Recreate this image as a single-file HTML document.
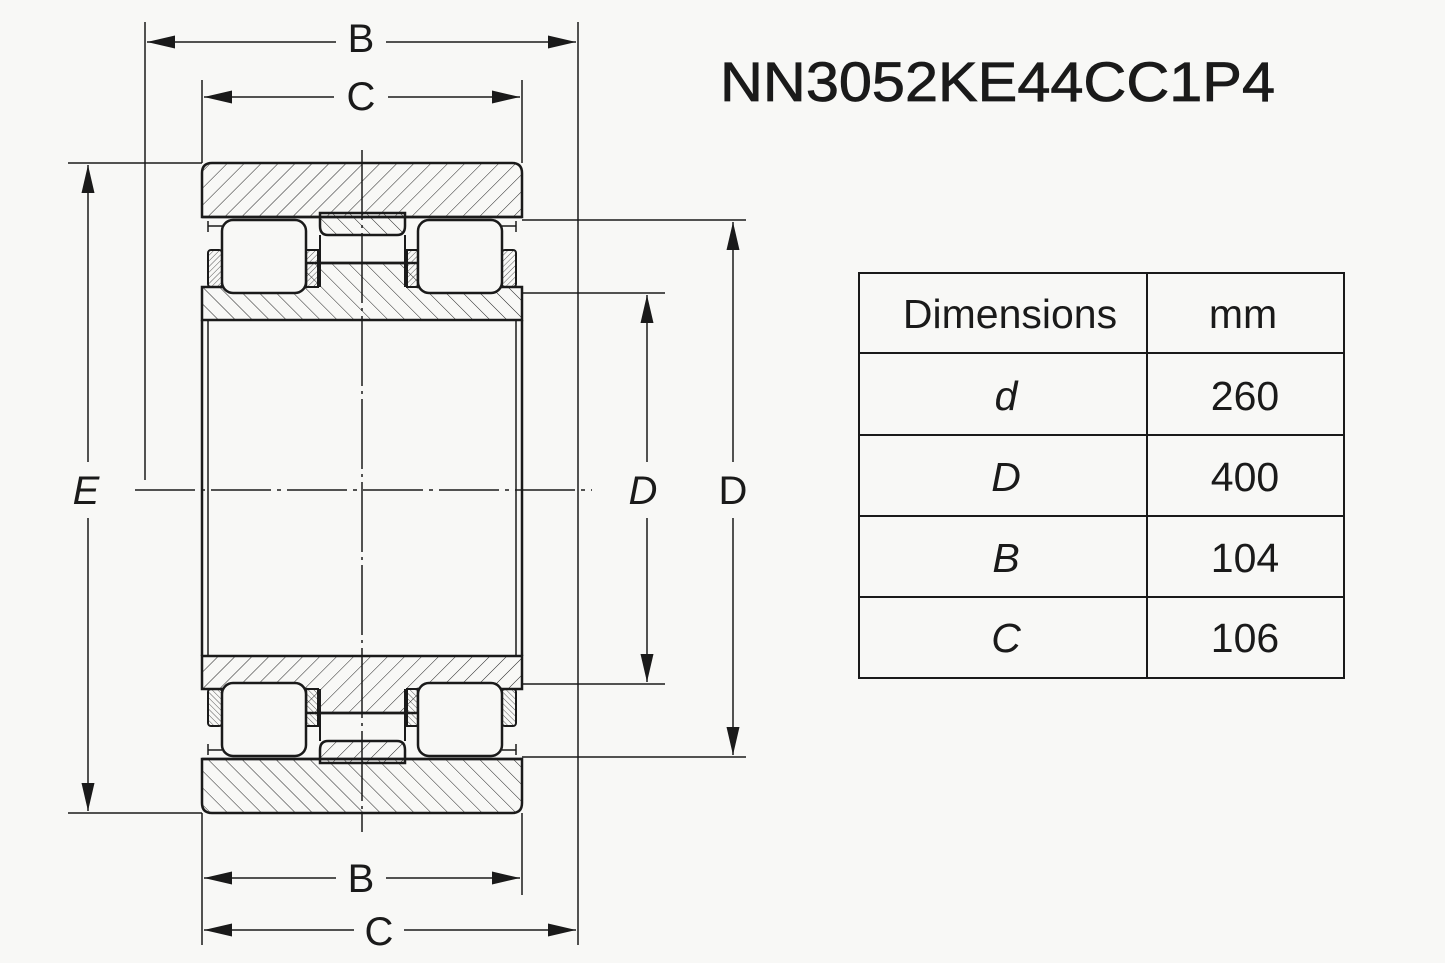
<!DOCTYPE html>
<html><head><style>
html,body{margin:0;padding:0;background:#f8f8f6;}
svg{display:block;}
text{font-family:"Liberation Sans",sans-serif;fill:#1a1a1a;}
</style></head><body>
<svg width="1445" height="963" viewBox="0 0 1445 963" xmlns="http://www.w3.org/2000/svg">
<defs>
<pattern id="hf" width="12" height="12" patternUnits="userSpaceOnUse" patternTransform="rotate(45)"><line x1="0" y1="0" x2="0" y2="12" stroke="#222" stroke-width="1"/></pattern>
<pattern id="hb" width="12" height="12" patternUnits="userSpaceOnUse" patternTransform="rotate(-45)"><line x1="0" y1="0" x2="0" y2="12" stroke="#222" stroke-width="1"/></pattern>
<pattern id="hs" width="4" height="4" patternUnits="userSpaceOnUse" patternTransform="rotate(45)"><line x1="0" y1="0" x2="0" y2="4" stroke="#333" stroke-width="0.8"/></pattern>
<marker id="ar" viewBox="0 0 10 10" refX="10" refY="5" markerWidth="28" markerHeight="13" markerUnits="userSpaceOnUse" orient="auto-start-reverse" preserveAspectRatio="none"><path d="M0,0 L10,5 L0,10 z" fill="#1a1a1a"/></marker>
<g id="half" stroke="#1a1a1a" fill="none">
  <path d="M202,217 L202,173 Q202,163 212,163 L512,163 Q522,163 522,173 L522,217 Z" fill="url(#hf)" stroke-width="2.5"/>
  <path d="M320,213 L320,226 Q320,235 328,235 L397,235 Q405,235 405,226 L405,213 Z" fill="url(#hb)" stroke-width="2.5"/>
  <line x1="320" y1="263" x2="405" y2="263" stroke-width="2.5"/>
  <line x1="320" y1="235" x2="320" y2="287" stroke-width="2"/>
  <line x1="405" y1="235" x2="405" y2="287" stroke-width="2"/>
  <path d="M202,287 L306,287 L306,263 L418,263 L418,287 L522,287 L522,320 L202,320 Z" fill="url(#hb)" stroke-width="2.5"/>
  <rect x="208" y="250" width="14" height="37" rx="3" fill="url(#hs)" stroke-width="2"/>
  <rect x="306" y="250" width="12" height="37" fill="url(#hs)" stroke-width="2"/>
  <rect x="407" y="250" width="11" height="37" fill="url(#hs)" stroke-width="2"/>
  <rect x="502" y="250" width="14" height="37" rx="3" fill="url(#hs)" stroke-width="2"/>
  <path d="M208,221 L208,232 M516,221 L516,232 M208,226 L222,226 M502,226 L516,226" stroke-width="1.5"/>
  <rect x="222" y="220" width="84" height="73" rx="11" fill="#f8f8f6" stroke-width="2.5"/>
  <rect x="418" y="220" width="84" height="73" rx="11" fill="#f8f8f6" stroke-width="2.5"/>
  <line x1="202" y1="217" x2="522" y2="217" stroke-width="2.5"/>
</g>
</defs>
<rect width="1445" height="963" fill="#f8f8f6"/>
<use href="#half"/>
<use href="#half" transform="matrix(1 0 0 -1 0 976)"/>
<g stroke="#1a1a1a" fill="none">
  <line x1="202" y1="320" x2="202" y2="656" stroke-width="2.5"/>
  <line x1="522" y1="320" x2="522" y2="656" stroke-width="2.5"/>
  <line x1="208" y1="320" x2="208" y2="656" stroke-width="1.5"/>
  <line x1="516" y1="320" x2="516" y2="656" stroke-width="1.5"/>
  <line x1="362" y1="150" x2="362" y2="832" stroke-width="1.5" stroke-dasharray="70,5,3,5"/>
  <line x1="135" y1="490" x2="592" y2="490" stroke-width="1.5" stroke-dasharray="60,6,4,6"/>
  <line x1="145" y1="22" x2="145" y2="480" stroke-width="1.5"/>
  <line x1="578" y1="22" x2="578" y2="945" stroke-width="1.5"/>
  <line x1="202" y1="80" x2="202" y2="163" stroke-width="1.5"/>
  <line x1="522" y1="80" x2="522" y2="163" stroke-width="1.5"/>
  <line x1="202" y1="813" x2="202" y2="945" stroke-width="1.5"/>
  <line x1="522" y1="813" x2="522" y2="895" stroke-width="1.5"/>
  <line x1="68" y1="163" x2="202" y2="163" stroke-width="1.5"/>
  <line x1="68" y1="813" x2="202" y2="813" stroke-width="1.5"/>
  <line x1="522" y1="220" x2="746" y2="220" stroke-width="1.5"/>
  <line x1="522" y1="757" x2="746" y2="757" stroke-width="1.5"/>
  <line x1="522" y1="293" x2="665" y2="293" stroke-width="1.5"/>
  <line x1="522" y1="684" x2="665" y2="684" stroke-width="1.5"/>
  <line x1="147" y1="42" x2="336" y2="42" stroke-width="1.5" marker-start="url(#ar)"/>
  <line x1="386" y1="42" x2="576" y2="42" stroke-width="1.5" marker-end="url(#ar)"/>
  <line x1="204" y1="97" x2="334" y2="97" stroke-width="1.5" marker-start="url(#ar)"/>
  <line x1="388" y1="97" x2="520" y2="97" stroke-width="1.5" marker-end="url(#ar)"/>
  <line x1="204" y1="878" x2="336" y2="878" stroke-width="1.5" marker-start="url(#ar)"/>
  <line x1="386" y1="878" x2="520" y2="878" stroke-width="1.5" marker-end="url(#ar)"/>
  <line x1="204" y1="930" x2="354" y2="930" stroke-width="1.5" marker-start="url(#ar)"/>
  <line x1="404" y1="930" x2="576" y2="930" stroke-width="1.5" marker-end="url(#ar)"/>
  <line x1="88" y1="165" x2="88" y2="462" stroke-width="1.5" marker-start="url(#ar)"/>
  <line x1="88" y1="518" x2="88" y2="811" stroke-width="1.5" marker-end="url(#ar)"/>
  <line x1="647" y1="295" x2="647" y2="462" stroke-width="1.5" marker-start="url(#ar)"/>
  <line x1="647" y1="518" x2="647" y2="682" stroke-width="1.5" marker-end="url(#ar)"/>
  <line x1="733" y1="222" x2="733" y2="462" stroke-width="1.5" marker-start="url(#ar)"/>
  <line x1="733" y1="518" x2="733" y2="755" stroke-width="1.5" marker-end="url(#ar)"/>
</g>
<g font-size="40" text-anchor="middle">
  <text x="361" y="52">B</text>
  <text x="361" y="110">C</text>
  <text x="361" y="892">B</text>
  <text x="379" y="945">C</text>
  <text x="86" y="504" font-style="italic">E</text>
  <text x="643" y="504" font-style="italic">D</text>
  <text x="733" y="504">D</text>
</g>
<text x="720" y="101" font-size="56" textLength="555" lengthAdjust="spacingAndGlyphs" stroke="#1a1a1a" stroke-width="0.8">NN3052KE44CC1P4</text>
<g stroke="#1a1a1a" stroke-width="2" fill="none">
  <rect x="859" y="273" width="485" height="405"/>
  <line x1="1147" y1="273" x2="1147" y2="678"/>
  <line x1="859" y1="353" x2="1344" y2="353"/>
  <line x1="859" y1="435" x2="1344" y2="435"/>
  <line x1="859" y1="516" x2="1344" y2="516"/>
  <line x1="859" y1="597" x2="1344" y2="597"/>
</g>
<g font-size="41" text-anchor="middle">
  <text x="1010" y="328">Dimensions</text>
  <text x="1243" y="328">mm</text>
  <text x="1006" y="410" font-style="italic">d</text>
  <text x="1245" y="410">260</text>
  <text x="1006" y="491" font-style="italic">D</text>
  <text x="1245" y="491">400</text>
  <text x="1006" y="572" font-style="italic">B</text>
  <text x="1245" y="572">104</text>
  <text x="1006" y="652" font-style="italic">C</text>
  <text x="1245" y="652">106</text>
</g>
</svg>
</body></html>
